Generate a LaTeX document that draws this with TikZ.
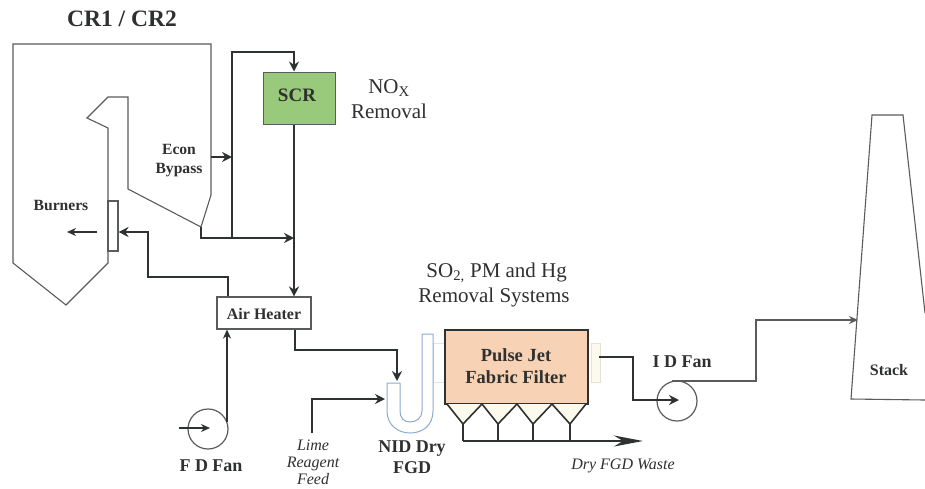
\documentclass[tikz,border=0pt]{standalone}
\usepackage{fontspec}
\setmainfont{Liberation Serif}
\usetikzlibrary{arrows.meta,calc}
\definecolor{ink}{HTML}{2E3230}
\definecolor{txt}{HTML}{2F3130}
\definecolor{outl}{HTML}{5A5C5A}
\definecolor{scrg}{HTML}{99C97A}
\definecolor{filt}{HTML}{F8D2B4}
\definecolor{ublue}{HTML}{8FA9CF}
\definecolor{pale}{HTML}{E6E2D6}
\definecolor{ivory}{HTML}{FCFAEC}
\tikzset{
 shell/.style={draw=outl,line width=1.1pt,line join=miter},
 pipe/.style={draw=ink,line width=1.9pt,line join=miter,-{Stealth[length=10pt,width=10pt]}},
 pipeline/.style={draw=ink,line width=1.9pt,line join=miter},
 thin pipe/.style={draw=ink,line width=1.5pt,line join=miter,-{Stealth[length=9pt,width=8pt]}},
 box/.style={draw=outl,line width=1.1pt,inner sep=0pt,minimum width=#1},
 fan/.style={circle,draw=outl,line width=1.2pt,minimum size=40pt,inner sep=0pt},
 lb/.style={text=txt,font=\bfseries\fontsize{15.6}{19}\selectfont,align=center,inner sep=0pt},
 lbb/.style={text=txt,font=\bfseries\fontsize{18.5}{21.5}\selectfont,align=center,inner sep=0pt},
 ln/.style={text=txt,font=\fontsize{21}{25}\selectfont,align=center,inner sep=0pt},
 li/.style={text=txt,font=\itshape\fontsize{16}{17}\selectfont,align=center,inner sep=0pt},
}
\begin{document}
\begin{tikzpicture}[x=1pt,y=-1pt]
\useasboundingbox (0,0) rectangle (925,488);
\fill[white] (0,0) rectangle (925,488);
% boiler
\draw[shell] (13,44)--(211,44)--(211,195)--(201,227)--(128,189)--(128,97)--(108,97)--(87,118)--(108,128)--(108,263)--(66,305)--(13,263)--cycle;
\node[box=10pt,minimum height=50pt] (burn) at (113,226) {};
% stack
\draw[shell] (925,313)--(903,115)--(872,115)--(851,399)--(925,400);
% boxes
\node[draw=outl,line width=1pt,fill=scrg,minimum width=72pt,minimum height=52pt,inner sep=0pt] (scr) at (299,98) {};
\node[lb,font=\bfseries\fontsize{19}{19}\selectfont] (scrt) at (297,95) {SCR};
\node[box=94pt,minimum height=32pt,fill=white] (ah) at (264,313) {};
\node[lb,font=\bfseries\fontsize{16}{16}\selectfont] (aht) at (264,314) {Air Heater};
\node[fan] (fd) at (208,429) {};
\node[fan] (idf) at (677,401) {};
% duct pieces
\node[draw=pale,fill=white,line width=1pt,minimum width=12pt,minimum height=39pt,inner sep=0pt] (ductl) at (439,362.5) {};
\node[draw=pale,fill=ivory,line width=1pt,minimum width=9pt,minimum height=39pt,inner sep=0pt] (ductr) at (595.5,362.5) {};
% U tube
\draw[ublue,line width=1pt,fill=white,line join=round] (387,383)--(387,411) .. controls (387,425) and (398,433) .. (410,433) .. controls (423,433) and (433,425) .. (433,411)--(433,334)--(422,334)--(422,411) .. controls (422,418) and (416,422) .. (410,422) .. controls (404,422) and (400,418) .. (400,411)--(400,383)--cycle;
% filter
\node[draw=ink,line width=1.8pt,fill=filt,minimum width=143pt,minimum height=74pt,inner sep=0pt] (ff) at (516.5,367) {};
\node[lbb] (fft) at (516,366) {Pulse Jet\\Fabric Filter};
% hoppers
\coordinate (h0) at (447,404); \coordinate (h1) at (482,404); \coordinate (h2) at (517,404); \coordinate (h3) at (552,404); \coordinate (h4) at (586,404);
\coordinate (a1) at (463,424); \coordinate (a2) at (498,424); \coordinate (a3) at (533,424); \coordinate (a4) at (570,424);
\coordinate (wl) at (463,441); \coordinate (wr) at (643,441);
\fill[ivory] (h0)--(a1)--(h1)--(a2)--(h2)--(a3)--(h3)--(a4)--(h4)--cycle;
\draw[pipeline,line width=1.6pt] (h0)--(a1)--(h1)--(a2)--(h2)--(a3)--(h3)--(a4)--(h4);
\draw[pipeline] (a1)--(a1|-wl);
\draw[pipeline] (a2)--(a2|-wl);
\draw[pipeline] (a3)--(a3|-wl);
\draw[pipeline] (a4)--(a4|-wl);
\draw[draw=ink,line width=1.9pt,-{Stealth[length=29pt,width=11pt,inset=9pt]}] (wl)--(wr);
% junctions and pipes
\coordinate (bo) at (201,227);
\coordinate (bk) at (201,238);
\coordinate (jb) at (232,238);
\coordinate (jm) at (294,238);
\coordinate (bt) at (232,52);
\coordinate (st) at (294,52);
\coordinate (ec) at (211,157);
\coordinate (ecj) at (232,157);
\coordinate (af) at (228,277);
\coordinate (ag) at (148,277);
\coordinate (ai) at (148,232);
\coordinate (bi) at (97,232);
\coordinate (bf) at (67,232);
\coordinate (gx) at (295,350);
\coordinate (gd) at (397,350);
\coordinate (ge) at (397,381);
\coordinate (lime0) at (312,433);
\coordinate (lime1) at (312,399);
\coordinate (lime2) at (385,399);
\coordinate (fi) at (179,428);
\coordinate (fe) at (210,428);
\coordinate (fu) at (227,422);
\coordinate (oa) at (599,357);
\coordinate (ob) at (633,357);
\coordinate (oc) at (633,400);
\coordinate (od) at (679,400);
\coordinate (sa) at (672,381);
\coordinate (sb) at (756,381);
\coordinate (sc) at (756,320);
\coordinate (sd) at (858,320);
\draw[pipeline] (bo)--(bk)--(jb);
\draw[pipe] (jb)--(jm);
\draw[pipe] (jb)--(bt)--(st)--(st|-scr.north);
\draw[pipe] (st|-scr.south)--(st|-ah.north);
\draw[pipe] (ec)--(ecj);
\draw[pipe] (af|-ah.north)--(af)--(ag)--(ai)--(burn.east|-ai);
\draw[thin pipe] (bi)--(bf);
\draw[thin pipe,line width=1.9pt] (fu)--(fu|-ah.south);
\draw[pipe] (gx|-ah.south)--(gx)--(gd)--(ge);
\draw[pipe] (lime0)--(lime1)--(lime2);
\draw[thin pipe] (fi)--(fe);
\draw[pipe] (oa)--(ob)--(oc)--(od);
\draw[thin pipe,draw=outl,line width=1.4pt] (sa)--(sb)--(sc)--(sd);
% labels
\node[lb,font=\bfseries\fontsize{23.5}{24}\selectfont] (t1) at (122,19) {CR1 / CR2};
\node[ln] (t2) at (389,99) {NO\textsubscript{X}\\Removal};
\node[lb] (t3) at (179,161) {Econ\\Bypass};
\node[lb] (t4) at (61,205) {Burners};
\node[lb,font=\bfseries\fontsize{18}{18}\selectfont] (t5) at (211,466) {F D Fan};
\node[li] (t6) at (313,462) {Lime\\Reagent\\Feed};
\node[lbb,font=\bfseries\fontsize{18}{21.5}\selectfont] (t7) at (412,457) {NID Dry\\FGD};
\node[lb,font=\bfseries\fontsize{18}{18}\selectfont] (t8) at (682,362) {I D Fan};
\node[li] (t9) at (623,466) {Dry FGD Waste};
\node[lb,font=\bfseries\fontsize{16}{16}\selectfont] (t10) at (889,370) {Stack};
\node[ln,align=left] (t11) at (494,285) {\hspace*{8pt}SO\textsubscript{2,} PM and Hg\\Removal Systems};
\end{tikzpicture}
\end{document}
